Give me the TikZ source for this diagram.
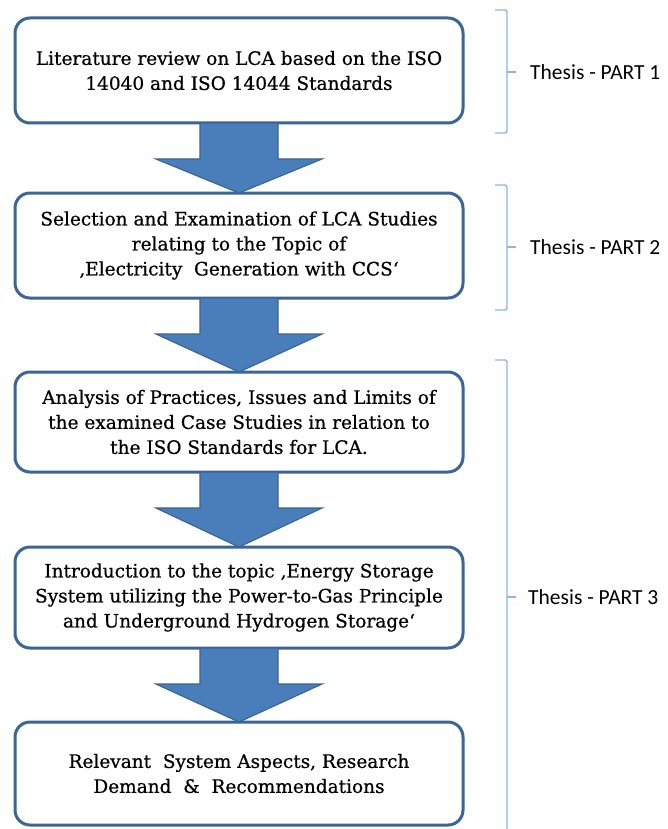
\documentclass[tikz,border=0pt]{standalone}
\usepackage{fontspec}
\setmainfont{DejaVu Serif}
\newfontfamily\stepfont{DejaVu Serif}[FakeBold=0.6]
\newfontfamily\labelfont{Carlito}
\usetikzlibrary{calc}
\definecolor{boxline}{HTML}{3A6595}
\definecolor{arrowfill}{HTML}{4A7EBB}
\definecolor{arrowline}{HTML}{3A6595}
\definecolor{bracecol}{HTML}{8DB4E2}

% block arrow from the bottom of one box to the top of the next
\newcommand\flowarrow[2]{%
  \draw[fatarrow]
    ([xshift=-39pt]#1.south) --
    ([xshift=-39pt,yshift=-36pt]#1.south) --
    ([xshift=-83pt,yshift=-36pt]#1.south) --
    (#2.north) --
    ([xshift=83pt,yshift=-36pt]#1.south) --
    ([xshift=39pt,yshift=-36pt]#1.south) --
    ([xshift=39pt]#1.south) -- cycle;}

\begin{document}
\begin{tikzpicture}[x=1pt,y=-1pt,
  stepbox/.style={draw=boxline, line width=3pt, rounded corners=15pt, fill=white,
    minimum width=448pt, align=center, outer sep=0pt, inner sep=0pt,
    font=\stepfont\fontsize{18.5}{25}\selectfont},
  fatarrow/.style={fill=arrowfill, draw=arrowline, line width=1.2pt, line join=miter},
  bracepath/.style={draw=bracecol, line width=1.4pt, rounded corners=2pt},
  partlabel/.style={anchor=west, inner sep=0pt, font=\labelfont\fontsize{21.5}{24}\selectfont}]
\useasboundingbox (0,0) rectangle (667,829);
\fill[white] (0,0) rectangle (667,829);

% process steps
\node[stepbox, minimum height=105pt] (b1) at (239,70.5)
  {Literature review on LCA based on the ISO\\14040 and ISO 14044 Standards};
\node[stepbox, minimum height=105pt] (b2) at (239,245.5)
  {Selection and Examination of LCA Studies\\relating to the Topic of\\‚Electricity\ \ Generation with CCS‘};
\node[stepbox, minimum height=100pt] (b3) at (239,422)
  {Analysis of Practices, Issues and Limits of\\the examined Case Studies in relation to\\the ISO Standards for LCA.};
\node[stepbox, minimum height=101pt] (b4) at (239,597.5)
  {Introduction to the topic ‚Energy Storage\\System utilizing the Power-to-Gas Principle\\and Underground Hydrogen Storage‘};
\node[stepbox, minimum height=103pt] (b5) at (239,773.5)
  {Relevant\ \ System Aspects, Research\\Demand\ \ \&\ \ Recommendations};

% arrows between the steps
\flowarrow{b1}{b2}
\flowarrow{b2}{b3}
\flowarrow{b3}{b4}
\flowarrow{b4}{b5}

% braces grouping the steps into thesis parts
\draw[bracepath] (495,10) -- (507,10) -- (507,133) -- (495,133);
\draw[bracepath] (507,72) -- (516,72);
\draw[bracepath] (495,185) -- (507,185) -- (507,310) -- (495,310);
\draw[bracepath] (507,247) -- (516,247);
\draw[bracepath] (495,360) -- (507,360) -- (507,830);
\draw[bracepath] (507,597) -- (516,597);

\node[partlabel] (p1) at (530,72) {Thesis - PART 1};
\node[partlabel] (p2) at (530,247) {Thesis - PART 2};
\node[partlabel] (p3) at (528,597) {Thesis - PART 3};
\end{tikzpicture}
\end{document}
